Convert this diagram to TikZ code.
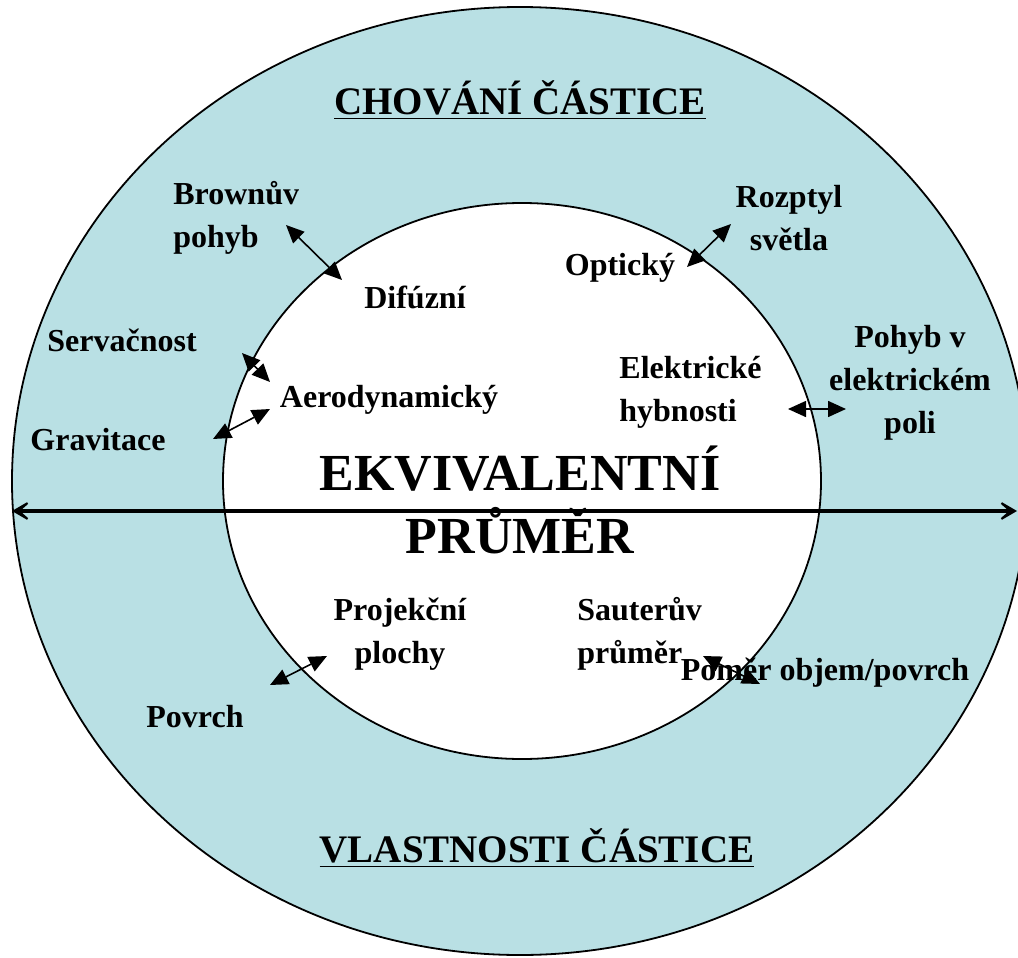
\documentclass[tikz,border=0pt]{standalone}
\usepackage{fontspec}
\setmainfont{Liberation Serif}
\usetikzlibrary{arrows.meta}
\definecolor{RingBlue}{HTML}{B9E0E4}

\begin{document}
\begin{tikzpicture}[x=0.5pt, y=-0.5pt,
  tag/.style={font=\bfseries\fontsize{16}{21.5}\selectfont, inner sep=0pt},
  heading/.style={font=\bfseries\fontsize{19.5}{24}\selectfont, inner sep=0pt},
  core/.style={font=\bfseries\fontsize{26}{31.5}\selectfont, inner sep=0pt, align=center},
  link/.style={{Triangle[length=9pt, width=8pt]}-{Triangle[length=9pt, width=8pt]}, line width=0.8pt},
  diameter/.style={{Stealth[length=12pt, width=14pt, inset=8pt]}-{Stealth[length=12pt, width=14pt, inset=8pt]}, line width=2.4pt}
]
\useasboundingbox (0,0) rectangle (1018,958);
% rings
\draw[fill=RingBlue, line width=0.9pt] (520,481) ellipse [x radius=508, y radius=474];
\draw[fill=white, line width=0.9pt] (522,481) ellipse [x radius=299, y radius=278];

% headings
\node[heading] (behav) at (520,100) {\underline{CHOVÁNÍ ČÁSTICE}};
\node[heading] (props) at (537,848) {\underline{VLASTNOSTI ČÁSTICE}};

% inner labels
\node[tag] (difuz) at (415,297) {Difúzní};
\node[tag] (optic) at (620,268) {Optický};
\node[tag] (aero) at (389,400) {Aerodynamický};
\node[tag, align=left, anchor=west] (elec) at (619,392) {Elektrické\\hybnosti};
\node[tag, align=center] (proj) at (400,634) {Projekční\\plochy};
\node[tag, align=left, anchor=west] (sauter) at (577,634) {Sauterův\\průměr};
\node[core] (equiv) at (520,500) {EKVIVALENTNÍ\\PRŮMĚR};

% outer labels
\node[tag, align=left, anchor=west] (brown) at (173,218) {Brownův\\pohyb};
\node[tag, align=center] (scatter) at (789,218) {Rozptyl\\světla};
\node[tag] (inert) at (122,340) {Servačnost};
\node[tag] (grav) at (98,440) {Gravitace};
\node[tag, align=center] (field) at (910,383) {Pohyb v\\elektrickém\\poli};
\node[tag] (ratio) at (825,673) {Poměr objem/povrch};
\node[tag] (surf) at (195,717) {Povrch};

% arrow ends
\coordinate (brownA) at (286,225);  \coordinate (brownB) at (342,280);
\coordinate (inertA) at (242,353);  \coordinate (inertB) at (270,382);
\coordinate (gravA) at (213,439);   \coordinate (gravB) at (270,409);
\coordinate (opticA) at (687,267);  \coordinate (opticB) at (731,224);
\coordinate (elecA) at (788,409);   \coordinate (elecB) at (846,409);
\coordinate (surfA) at (270,685);   \coordinate (surfB) at (327,656);
\coordinate (ratioA) at (703,656);  \coordinate (ratioB) at (760,684);
\coordinate (diamL) at (12,511);    \coordinate (diamR) at (1017,511);

\draw[link] (brownA) -- (brownB);
\draw[link] (inertA) -- (inertB);
\draw[link] (gravA) -- (gravB);
\draw[link] (opticA) -- (opticB);
\draw[link] (elecA) -- (elecB);
\draw[link] (surfA) -- (surfB);
\draw[link] (ratioA) -- (ratioB);
\draw[diameter] (diamL) -- (diamR);
\end{tikzpicture}
\end{document}
